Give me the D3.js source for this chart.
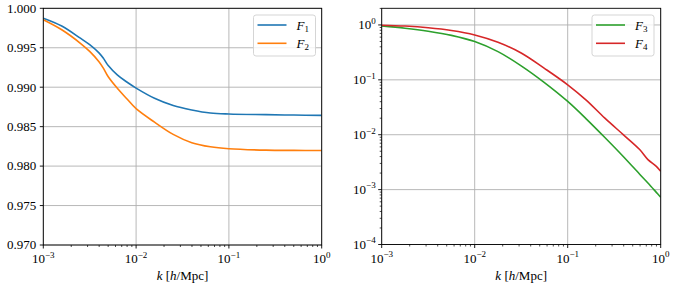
<!DOCTYPE html>
<html><head><meta charset="utf-8">
<script src="https://cdn.jsdelivr.net/npm/d3@7"></script>
<style>body{margin:0;background:#fff} svg text{font-family:"Liberation Serif","DejaVu Serif",serif !important}</style>
</head><body><svg id="c" width="674" height="289" font-family="'Liberation Serif', 'DejaVu Serif', serif"></svg>
<script>
// ---- data ----
const kLeft = [0.001, 0.00158, 0.00251, 0.00316, 0.00398, 0.00447, 0.00501, 0.00631, 0.00794, 0.01, 0.0158, 0.0251, 0.0398, 0.0631, 0.1, 0.251, 0.501, 1.0];
const F1 = [0.99875, 0.99776, 0.99621, 0.99539, 0.99435, 0.99362, 0.99274, 0.99152, 0.99066, 0.98989, 0.98860, 0.98768, 0.98712, 0.98673, 0.98660, 0.98652, 0.98647, 0.98643];
const F2 = [0.99855, 0.99728, 0.99557, 0.99454, 0.99323, 0.99236, 0.99132, 0.98983, 0.98854, 0.98728, 0.98557, 0.98402, 0.98297, 0.98245, 0.98220, 0.98202, 0.98199, 0.98198];
const kRight = [0.001, 0.00178, 0.00316, 0.00562, 0.01, 0.0178, 0.0316, 0.0562, 0.1, 0.158, 0.251, 0.398, 0.594, 0.729, 0.897, 1.0];
const F3 = [0.96, 0.871, 0.767, 0.646, 0.498, 0.326, 0.180, 0.0891, 0.0404, 0.0195, 0.00891, 0.00398, 0.00191, 0.00132, 0.000891, 0.000724];
const F4 = [0.99, 0.955, 0.891, 0.794, 0.658, 0.484, 0.309, 0.162, 0.0813, 0.0427, 0.0200, 0.00995, 0.00537, 0.00351, 0.00265, 0.00215];
const xTickExps = [-3, -2, -1, 0];
const yTicksLeft = [0.970, 0.975, 0.980, 0.985, 0.990, 0.995, 1.000];
const yTickExpsRight = [0, -1, -2, -3, -4];
const seriesLeft = [{name:"1", vals:F1, color:"#1f77b4"}, {name:"2", vals:F2, color:"#ff7f0e"}];
const seriesRight = [{name:"3", vals:F3, color:"#2ca02c"}, {name:"4", vals:F4, color:"#d62728"}];

const svg = d3.select("#c");
const FS = 13, SUP = 9;

function powLabel(sel, exp) {
  sel.append("tspan").text("10");
  sel.append("tspan").attr("dy", -5.5).attr("font-size", SUP).text(exp < 0 ? "\u2212" + (-exp) : String(exp));
}

function panel(cfg) {
  const {x0, x1, y0, y1} = cfg;
  const x = d3.scaleLog().domain([1e-3, 1]).range([x0, x1]);
  const y = cfg.y;
  const g = svg.append("g");
  xTickExps.forEach(e => {
    g.append("line").attr("x1", x(10**e)).attr("x2", x(10**e)).attr("y1", y0).attr("y2", y1)
      .attr("stroke", "#b0b0b0").attr("stroke-width", 0.9);
  });
  cfg.yTickVals.forEach(v => {
    g.append("line").attr("x1", x0).attr("x2", x1).attr("y1", y(v)).attr("y2", y(v))
      .attr("stroke", "#b0b0b0").attr("stroke-width", 0.9);
  });
  const clipId = "clip" + cfg.id;
  svg.append("clipPath").attr("id", clipId).append("rect").attr("x", x0).attr("y", y0).attr("width", x1 - x0).attr("height", y1 - y0);
  const line = d3.line().x((d, i) => x(cfg.k[i])).y(d => y(d)).curve(d3.curveCatmullRom.alpha(0.5));
  cfg.series.forEach(s => {
    g.append("path").attr("d", line(s.vals)).attr("fill", "none").attr("stroke", s.color)
      .attr("stroke-width", 1.6).attr("clip-path", `url(#${clipId})`);
  });
  g.append("rect").attr("x", x0).attr("y", y0).attr("width", x1 - x0).attr("height", y1 - y0)
    .attr("fill", "none").attr("stroke", "#000").attr("stroke-width", 0.9);
  xTickExps.forEach(e => {
    g.append("line").attr("x1", x(10**e)).attr("x2", x(10**e)).attr("y1", y1).attr("y2", y1 + 3.5).attr("stroke", "#000").attr("stroke-width", 0.9);
    const t = g.append("text").attr("x", x(10**e)).attr("y", y1 + 18).attr("text-anchor", "middle").attr("font-size", FS);
    powLabel(t, e);
  });
  for (let e = -3; e < 0; e++) for (let m = 2; m <= 9; m++) {
    const xv = x(m * 10**e);
    g.append("line").attr("x1", xv).attr("x2", xv).attr("y1", y1).attr("y2", y1 + 2).attr("stroke", "#000").attr("stroke-width", 0.7);
  }
  const xl = g.append("text").attr("x", (x0 + x1) / 2).attr("y", 280).attr("text-anchor", "middle").attr("font-size", FS);
  xl.append("tspan").attr("font-style", "italic").text("k");
  xl.append("tspan").text(" [");
  xl.append("tspan").attr("font-style", "italic").text("h");
  xl.append("tspan").text("/Mpc]");
  cfg.drawYTicks(g, x0);
  const lx = cfg.legX, ly = 15, lw = 62, lh = 41;
  g.append("rect").attr("x", lx).attr("y", ly).attr("width", lw).attr("height", lh).attr("rx", 2.5)
    .attr("fill", "#fff").attr("fill-opacity", 0.8).attr("stroke", "#d0d0d0").attr("stroke-width", 0.9);
  cfg.series.forEach((s, i) => {
    const yy = ly + 10 + i * 18.3;
    g.append("line").attr("x1", lx + 4).attr("x2", lx + 33).attr("y1", yy).attr("y2", yy).attr("stroke", s.color).attr("stroke-width", 1.6);
    const t = g.append("text").attr("x", lx + 43).attr("y", yy + 4.5).attr("font-size", FS);
    t.append("tspan").attr("font-style", "italic").text("F");
    t.append("tspan").attr("dy", 2.5).attr("font-size", SUP).text(s.name);
  });
}

const yL = d3.scaleLinear().domain([0.970, 1.000]).range([245, 8.3]);
panel({
  id: "L", x0: 43.3, x1: 321.7, y0: 8.3, y1: 245, y: yL, k: kLeft, series: seriesLeft,
  yTickVals: yTicksLeft, legX: 253.5,
  drawYTicks: (g, x0) => {
    yTicksLeft.forEach(v => {
      g.append("line").attr("x1", x0 - 3.5).attr("x2", x0).attr("y1", yL(v)).attr("y2", yL(v)).attr("stroke", "#000").attr("stroke-width", 0.9);
      g.append("text").attr("x", x0 - 7).attr("y", yL(v) + 4.3).attr("text-anchor", "end").attr("font-size", FS).text(v.toFixed(3));
    });
  }
});

const yR = d3.scaleLog().domain([1e-4, 2.01]).range([244.5, 8.3]);
panel({
  id: "R", x0: 381.7, x1: 660.7, y0: 8.3, y1: 244.5, y: yR, k: kRight, series: seriesRight,
  yTickVals: yTickExpsRight.map(e => 10**e), legX: 592,
  drawYTicks: (g, x0) => {
    yTickExpsRight.forEach(e => {
      const v = 10**e;
      g.append("line").attr("x1", x0 - 3.5).attr("x2", x0).attr("y1", yR(v)).attr("y2", yR(v)).attr("stroke", "#000").attr("stroke-width", 0.9);
      const t = g.append("text").attr("x", x0 - 6).attr("y", yR(v) + 4.3).attr("text-anchor", "end").attr("font-size", FS);
      powLabel(t, e);
    });
    for (let e = -4; e <= 0; e++) for (let m = 2; m <= 9; m++) {
      const v = m * 10**e;
      if (v > 2.01) continue;
      g.append("line").attr("x1", x0 - 2).attr("x2", x0).attr("y1", yR(v)).attr("y2", yR(v)).attr("stroke", "#000").attr("stroke-width", 0.7);
    }
  }
});
</script></body></html>
